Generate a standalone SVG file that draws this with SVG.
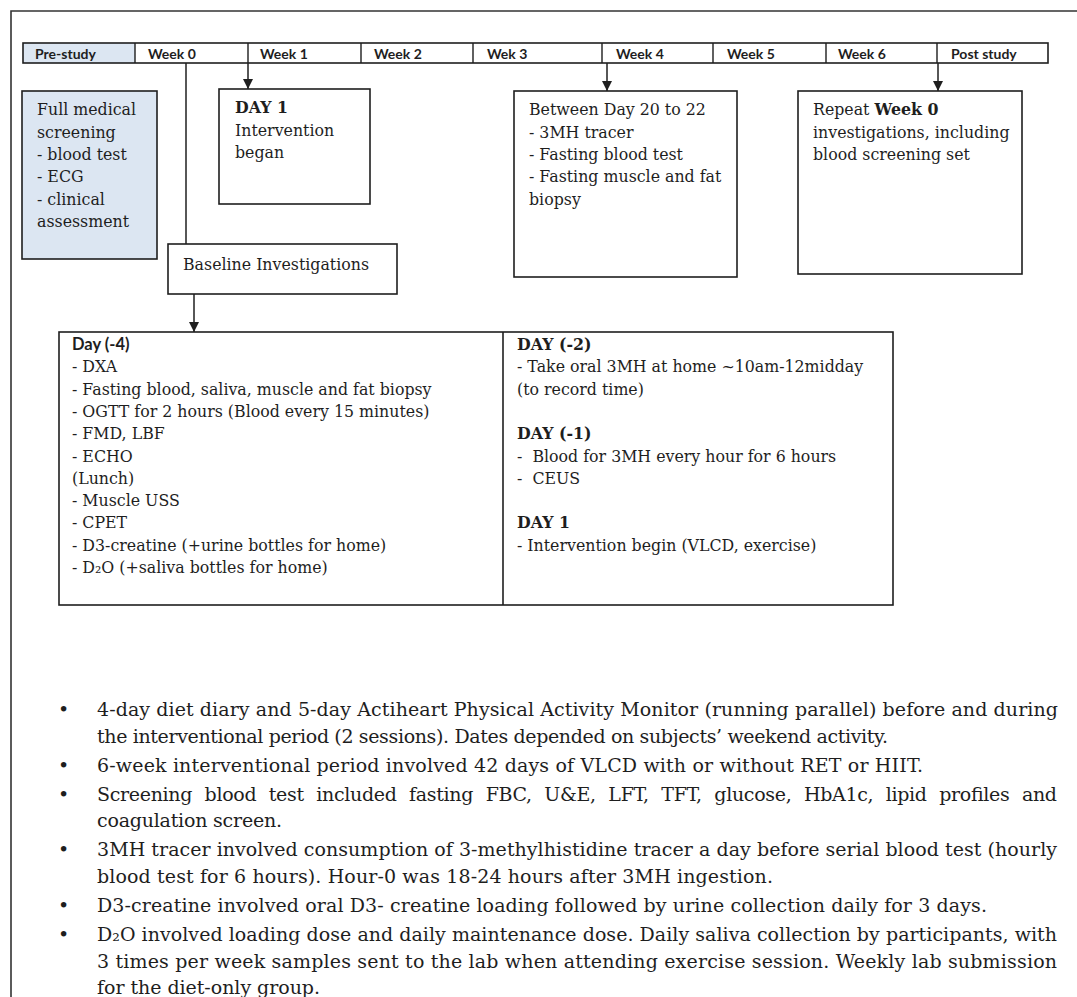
<svg xmlns="http://www.w3.org/2000/svg" width="1077" height="997" viewBox="0 0 1077 997">
<style>
.bx{fill:#fff;stroke:#1f1f1f;stroke-width:1.6}
.t{font-family:"DejaVu Serif","Liberation Serif",serif;font-size:15.8px;fill:#1e1e1e}
.b{font-weight:bold}
.s{font-family:Lato,"Liberation Sans",sans-serif;font-weight:bold;font-size:14px;fill:#1e1e1e}
.n{font-family:"DejaVu Serif","Liberation Serif",serif;font-size:19px;fill:#1e1e1e}
.cn{stroke:#1f1f1f;stroke-width:1.5;fill:none}
</style>
<defs>
<marker id="ah" viewBox="0 0 10 10" refX="10" refY="5" markerWidth="10" markerHeight="10" markerUnits="userSpaceOnUse" orient="auto"><path d="M0,0 L10,5 L0,10 z" fill="#1f1f1f"/></marker>
</defs>
<rect width="1077" height="997" fill="#fff"/>
<path d="M11,997 V11 H1077" fill="none" stroke="#333" stroke-width="1.6"/>

<g id="timeline">
<rect x="23" y="43" width="112" height="20" fill="#dce6f2"/>
<rect x="23" y="43" width="1025" height="20" fill="none" stroke="#1f1f1f" stroke-width="1.6"/>
<path d="M135,43V63M248,43V63M361,43V63M473,43V63M602,43V63M713,43V63M826,43V63M937,43V63" stroke="#1f1f1f" stroke-width="1.4"/>
<text class="s" x="35" y="58.5">Pre-study</text>
<text class="s" x="148" y="58.5">Week 0</text>
<text class="s" x="260" y="58.5">Week 1</text>
<text class="s" x="374" y="58.5">Week 2</text>
<text class="s" x="487" y="58.5">Wek 3</text>
<text class="s" x="616" y="58.5">Week 4</text>
<text class="s" x="727" y="58.5">Week 5</text>
<text class="s" x="838" y="58.5">Week 6</text>
<text class="s" x="951" y="58.5">Post study</text>
</g>

<g id="connectors">
<path class="cn" d="M186,63 V244"/>
<path class="cn" d="M248,63 V89" marker-end="url(#ah)"/>
<path class="cn" d="M607,63 V91" marker-end="url(#ah)"/>
<path class="cn" d="M938,63 V91" marker-end="url(#ah)"/>
<path class="cn" d="M194,294 V332" marker-end="url(#ah)"/>
</g>

<g id="node-screening">
<rect x="22" y="91" width="135" height="168" fill="#dce6f2" stroke="#1f1f1f" stroke-width="1.6"/>
<text class="t" x="37" y="115">Full medical</text>
<text class="t" x="37" y="137.5">screening</text>
<text class="t" x="37" y="160">- blood test</text>
<text class="t" x="37" y="182">- ECG</text>
<text class="t" x="37" y="204.5">- clinical</text>
<text class="t" x="37" y="227">assessment</text>
</g>

<g id="node-day1">
<rect class="bx" x="219" y="89" width="151" height="115"/>
<text class="t b" x="235" y="113">DAY 1</text>
<text class="t" x="235" y="136">Intervention</text>
<text class="t" x="235" y="158">began</text>
</g>

<g id="node-baseline">
<rect class="bx" x="168" y="244" width="229" height="50"/>
<text class="t" x="183" y="270">Baseline Investigations</text>
</g>

<g id="node-between">
<rect class="bx" x="514" y="91" width="223" height="186"/>
<text class="t" x="529" y="115">Between Day 20 to 22</text>
<text class="t" x="529" y="137.5">- 3MH tracer</text>
<text class="t" x="529" y="160">- Fasting blood test</text>
<text class="t" x="529" y="182">- Fasting muscle and fat</text>
<text class="t" x="529" y="204.5">biopsy</text>
</g>

<g id="node-repeat">
<rect class="bx" x="798" y="91" width="224" height="183"/>
<text class="t" x="813" y="115">Repeat <tspan class="b">Week 0</tspan></text>
<text class="t" x="813" y="137.5">investigations, including</text>
<text class="t" x="813" y="160">blood screening set</text>
</g>

<g id="node-baseline-days">
<rect class="bx" x="59" y="332" width="834" height="273"/>
<path d="M503,332 V605" stroke="#1f1f1f" stroke-width="1.6"/>
<text class="s" style="font-size:16.5px" x="72" y="350">Day (-4)</text>
<text class="t" x="72" y="372.3">- DXA</text>
<text class="t" x="72" y="394.6">- Fasting blood, saliva, muscle and fat biopsy</text>
<text class="t" x="72" y="416.9">- OGTT for 2 hours (Blood every 15 minutes)</text>
<text class="t" x="72" y="439.2">- FMD, LBF</text>
<text class="t" x="72" y="461.5">- ECHO</text>
<text class="t" x="72" y="483.8">(Lunch)</text>
<text class="t" x="72" y="506.1">- Muscle USS</text>
<text class="t" x="72" y="528.4">- CPET</text>
<text class="t" x="72" y="550.7">- D3-creatine (+urine bottles for home)</text>
<text class="t" x="72" y="573">- D₂O (+saliva bottles for home)</text>
<text class="t b" x="517" y="350">DAY (-2)</text>
<text class="t" x="517" y="372.3">- Take oral 3MH at home ~10am-12midday</text>
<text class="t" x="517" y="394.6">(to record time)</text>
<text class="t b" x="517" y="439.2">DAY (-1)</text>
<text class="t" x="517" y="461.5">-&#160; Blood for 3MH every hour for 6 hours</text>
<text class="t" x="517" y="483.8">-&#160; CEUS</text>
<text class="t b" x="517" y="528.4">DAY 1</text>
<text class="t" x="517" y="550.7">- Intervention begin (VLCD, exercise)</text>
</g>

<g id="notes">
<text class="n" x="58" y="716">•</text>
<text class="n" x="58" y="771.6">•</text>
<text class="n" x="58" y="800.7">•</text>
<text class="n" x="58" y="856.3">•</text>
<text class="n" x="58" y="911.9">•</text>
<text class="n" x="58" y="941">•</text>
<text class="n" x="97" y="716" textLength="961" lengthAdjust="spacing">4-day diet diary and 5-day Actiheart Physical Activity Monitor (running parallel) before and during</text>
<text class="n" x="97" y="742.5" textLength="791" lengthAdjust="spacing">the interventional period (2 sessions). Dates depended on subjects’ weekend activity.</text>
<text class="n" x="97" y="771.6" textLength="826" lengthAdjust="spacing">6-week interventional period involved 42 days of VLCD with or without RET or HIIT.</text>
<text class="n" x="97" y="800.7" style="word-spacing:6.8px" textLength="960" lengthAdjust="spacing">Screening blood test included fasting FBC, U&amp;E, LFT, TFT, glucose, HbA1c, lipid profiles and</text>
<text class="n" x="97" y="827.2" textLength="185" lengthAdjust="spacing">coagulation screen.</text>
<text class="n" x="97" y="856.3" textLength="960" lengthAdjust="spacing">3MH tracer involved consumption of 3-methylhistidine tracer a day before serial blood test (hourly</text>
<text class="n" x="97" y="882.8" textLength="676" lengthAdjust="spacing">blood test for 6 hours). Hour-0 was 18-24 hours after 3MH ingestion.</text>
<text class="n" x="97" y="911.9" textLength="890" lengthAdjust="spacing">D3-creatine involved oral D3- creatine loading followed by urine collection daily for 3 days.</text>
<text class="n" x="97" y="941" textLength="960" lengthAdjust="spacing">D₂O involved loading dose and daily maintenance dose. Daily saliva collection by participants, with</text>
<text class="n" x="97" y="967.5" textLength="960" lengthAdjust="spacing">3 times per week samples sent to the lab when attending exercise session. Weekly lab submission</text>
<text class="n" x="97" y="994" textLength="223" lengthAdjust="spacing">for the diet-only group.</text>
</g>
</svg>
